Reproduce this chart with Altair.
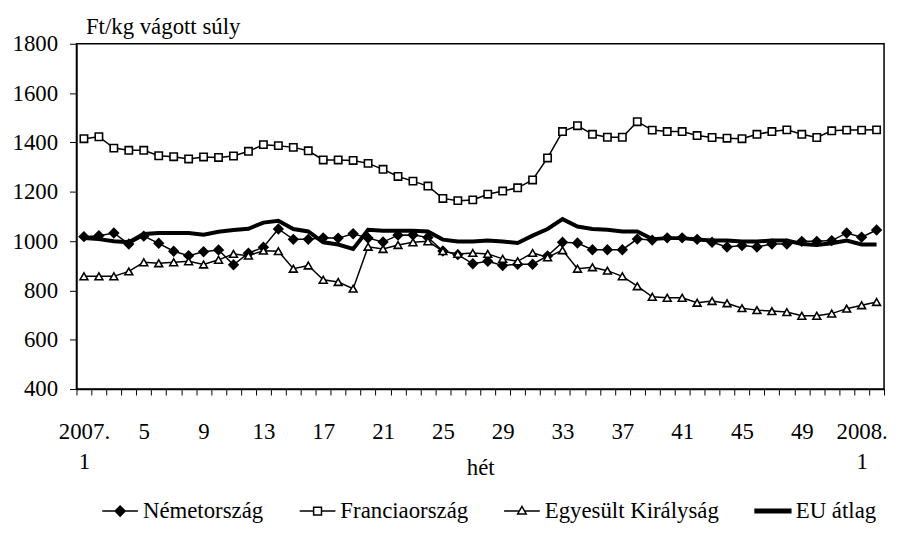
import altair as alt
import pandas as pd

# Category index 0..53 : 2007 week 1 ... 2008 week 2
weeks = list(range(54))
tick_index = [0, 4, 8, 12, 16, 20, 24, 28, 32, 36, 40, 44, 48, 52]
tick_labels = ["2007.|1", "5", "9", "13", "17", "21", "25", "29", "33",
               "37", "41", "45", "49", "2008.|1"]

series_names = ["Németország", "Franciaország", "Egyesült Királyság", "EU átlag"]

germany = [1018, 1022, 1033, 988, 1020, 991, 959, 941, 957, 964, 904, 951, 975, 1049,
           1007, 1007, 1013, 1012, 1030, 1012, 996, 1024, 1025, 1015, 960, 945, 908, 918,
           901, 906, 906, 940, 995, 992, 965, 965, 965, 1008, 1004, 1013, 1013, 1007,
           995, 976, 982, 976, 988, 988, 999, 999, 1002, 1033, 1016, 1045]
france = [1415, 1423, 1377, 1368, 1368, 1346, 1342, 1333, 1341, 1339, 1345, 1364, 1391,
          1387, 1380, 1366, 1329, 1329, 1327, 1315, 1291, 1262, 1243, 1223, 1173, 1164,
          1167, 1190, 1203, 1216, 1248, 1337, 1444, 1468, 1433, 1421, 1421, 1484, 1450,
          1444, 1444, 1428, 1420, 1417, 1415, 1433, 1444, 1451, 1433, 1420, 1447, 1450,
          1450, 1451]
uk = [857, 857, 857, 877, 914, 910, 914, 918, 905, 924, 948, 941, 961, 959, 888, 901,
      843, 834, 807, 977, 968, 984, 995, 999, 959, 948, 952, 948, 928, 918, 952, 934,
      963, 888, 894, 880, 857, 817, 774, 770, 770, 750, 757, 748, 728, 720, 716, 712,
      697, 697, 706, 726, 740, 753]
eu = [1012, 1008, 999, 995, 1029, 1033, 1033, 1033, 1026, 1038, 1045, 1050, 1075, 1082,
      1049, 1039, 995, 986, 968, 1046, 1042, 1042, 1042, 1039, 1006, 998, 998, 1002, 998,
      992, 1022, 1049, 1089, 1059, 1049, 1046, 1039, 1039, 1008, 1012, 1012, 1006, 1002,
      1002, 998, 998, 1002, 1002, 988, 984, 991, 1002, 986, 986]

y_ticks = [400, 600, 800, 1000, 1200, 1400, 1600, 1800]

FONT = "Liberation Serif"
FS = 23

rows = []
for name, vals in zip(series_names, [germany, france, uk, eu]):
    for w, v in zip(weeks, vals):
        rows.append({"week": w, "series": name, "value": v})
df = pd.DataFrame(rows)

# label expression (ticks sit on category boundaries, labels shifted to centres)
def lab_js(s):
    parts = s.split("|")
    if len(parts) > 1:
        return "[" + ",".join("'" + p + "'" for p in parts) + "]"
    return "'" + s + "'"

expr = "''"
for idx, lab in reversed(list(zip(tick_index, tick_labels))):
    expr = f"datum.value == {idx - 0.5} ? {lab_js(lab)} : ({expr})"

boundaries = [w - 0.5 for w in weeks] + [weeks[-1] + 0.5]
cat_w = 814 / len(weeks)

x_enc = alt.X(
    "week:Q",
    scale=alt.Scale(domain=[-0.5, weeks[-1] + 0.5], nice=False, zero=False),
    axis=alt.Axis(
        values=boundaries, labelExpr=expr, labelOffset=cat_w / 2,
        labelOverlap=False, labelFlush=False, labelBound=False,
        tickSize=6, labelPadding=26, labelBaseline="top", labelAlign="center",
        labelLineHeight=30, labelFontSize=FS, labelFont=FONT,
        title="hét", titleFont=FONT, titleFontSize=FS, titleFontWeight="normal",
        titleY=86, titleBaseline="alphabetic",
    ),
)
y_enc = alt.Y(
    "value:Q",
    scale=alt.Scale(domain=[400, 1800], nice=False, zero=False),
    axis=alt.Axis(
        values=y_ticks, format="d", tickSize=7, labelPadding=12, labelFontSize=FS,
        labelFont=FONT,
        title="Ft/kg vágott súly", titleAngle=0, titleAlign="left",
        titleBaseline="alphabetic", titleX=9, titleY=-10, titleFont=FONT,
        titleFontSize=FS, titleFontWeight="normal",
    ),
)

base = alt.Chart(df)

countries = series_names[:3]
lines = base.transform_filter(
    alt.FieldOneOfPredicate(field="series", oneOf=countries)
).mark_line(color="black", strokeWidth=1.5).encode(x=x_enc, y=y_enc, detail="series:N")

eu_line = base.transform_filter(
    alt.FieldEqualPredicate(field="series", equal="EU átlag")
).mark_line(color="black", strokeWidth=4).encode(x=x_enc, y=y_enc)

marker_specs = [
    ("Németország", "diamond", "black", 85),
    ("Franciaország", "square", "white", 55),
    ("Egyesült Királyság", "triangle-up", "white", 62),
]
marker_layers = []
for name, shp, fill, size in marker_specs:
    marker_layers.append(
        base.transform_filter(alt.FieldEqualPredicate(field="series", equal=name))
        .mark_point(shape=shp, fill=fill, filled=True, stroke="black",
                    strokeWidth=1.6, size=size, opacity=1)
        .encode(x=x_enc, y=y_enc)
    )

legend_paths = [
    "M-1,0L1,0M0,-0.28L0.28,0L0,0.28L-0.28,0Z",
    "M-1,0L-0.22,0M0.22,0L1,0M-0.22,-0.22L0.22,-0.22L0.22,0.22L-0.22,0.22Z",
    "M-1,0L-0.15,0M0.15,0L1,0M0,-0.26L0.24,0.16L-0.24,0.16Z",
    "M-1,-0.1L1,-0.1L1,0.1L-1,0.1Z",
]
legend_fills = ["black", "white", "white", "black"]
legend_strokes = ["black", "black", "black", "black"]

leg = alt.Legend(
    orient="none", legendX=25, legendY=452, direction="horizontal", columns=4,
    title=None, symbolSize=1296, symbolStrokeWidth=1.5,
    symbolOpacity=1, labelFont=FONT, labelFontSize=FS, labelOffset=4,
    columnPadding=33, labelLimit=0,
)
legend_layer = base.mark_point(opacity=0).encode(
    x=x_enc, y=y_enc,
    shape=alt.Shape("series:N", scale=alt.Scale(domain=series_names, range=legend_paths),
                    legend=leg),
    fill=alt.Fill("series:N", scale=alt.Scale(domain=series_names, range=legend_fills),
                  legend=leg),
    stroke=alt.Stroke("series:N", scale=alt.Scale(domain=series_names, range=legend_strokes),
                      legend=leg),
)

chart = alt.layer(lines, *marker_layers, eu_line, legend_layer).properties(
    width=814, height=348,
    autosize=alt.AutoSizeParams(type="none"),
    padding={"left": 69, "top": 34, "right": 8, "bottom": 140},
).configure(background="white", font=FONT).configure_view(
    stroke="black", strokeWidth=1.5
).configure_axis(
    domainColor="black", domainWidth=1.5, tickColor="black", labelColor="black",
    titleColor="black", grid=False, labelFont=FONT, titleFont=FONT,
    labelFontSize=FS, titleFontSize=FS, titleFontWeight="normal",
).configure_axisY(
    labelFont=FONT, titleFont=FONT, labelFontSize=FS, titleFontSize=FS,
).configure_axisLeft(
    labelFont=FONT, titleFont=FONT,
).configure_legend(labelFont=FONT, labelFontSize=FS)

chart.save("out.html", embed_options={"renderer": "svg", "actions": False})
